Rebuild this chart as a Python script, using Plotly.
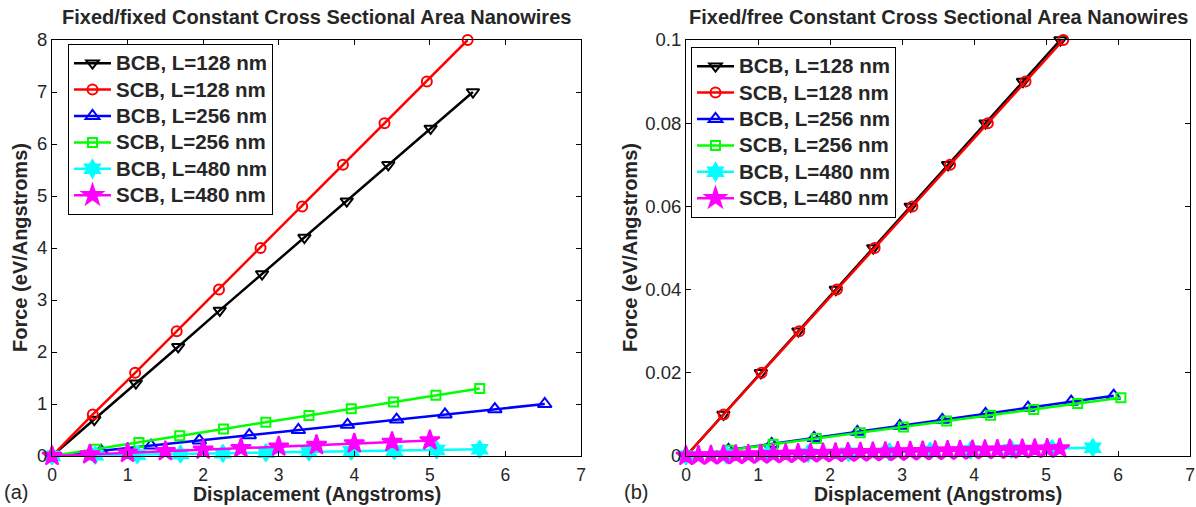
import plotly.graph_objects as go

# ---------------- data: panel (a) fixed/fixed ----------------
a_bcb128_x = [0, 0.56, 1.11, 1.67, 2.22, 2.78, 3.34, 3.90, 4.45, 5.01, 5.57]
a_bcb128_y = [0, 0.7, 1.4, 2.1, 2.8, 3.5, 4.2, 4.9, 5.6, 6.3, 7.0]
a_scb128_x = [0, 0.54, 1.10, 1.65, 2.21, 2.76, 3.31, 3.85, 4.40, 4.96, 5.50]
a_scb128_y = [0, 0.8, 1.6, 2.4, 3.2, 4.0, 4.8, 5.6, 6.4, 7.2, 8.0]
a_bcb256_x = [0, 0.65, 1.31, 1.95, 2.61, 3.26, 3.91, 4.56, 5.20, 5.86, 6.52]
a_bcb256_y = [0, 0.1, 0.2, 0.3, 0.4, 0.5, 0.6, 0.7, 0.8, 0.9, 1.0]
a_scb256_x = [0, 0.58, 1.15, 1.69, 2.27, 2.83, 3.40, 3.96, 4.52, 5.08, 5.66]
a_scb256_y = [0, 0.13, 0.26, 0.39, 0.52, 0.65, 0.78, 0.91, 1.04, 1.17, 1.30]
a_bcb480_x = [0, 0.57, 1.13, 1.70, 2.26, 2.83, 3.40, 3.96, 4.53, 5.09, 5.66]
a_bcb480_y = [0, 0.013, 0.026, 0.039, 0.052, 0.065, 0.078, 0.091, 0.104, 0.117, 0.13]
a_scb480_x = [0, 0.5, 1.0, 1.5, 2.0, 2.5, 3.0, 3.5, 4.0, 4.5, 5.0]
a_scb480_y = [0, 0.03, 0.06, 0.09, 0.12, 0.15, 0.18, 0.21, 0.24, 0.27, 0.30]

# ---------------- data: panel (b) fixed/free ----------------
b_bcb128_x = [0, 0.52, 1.04, 1.56, 2.08, 2.60, 3.12, 3.64, 4.16, 4.68, 5.20]
b_bcb128_y = [0, 0.01, 0.02, 0.03, 0.04, 0.05, 0.06, 0.07, 0.08, 0.09, 0.10]
b_scb128_x = [0, 0.524, 1.048, 1.572, 2.096, 2.62, 3.144, 3.668, 4.192, 4.716, 5.24]
b_scb128_y = [0, 0.01, 0.02, 0.03, 0.04, 0.05, 0.06, 0.07, 0.08, 0.09, 0.10]
b_bcb256_x = [0, 0.59, 1.19, 1.78, 2.38, 2.97, 3.56, 4.16, 4.75, 5.35, 5.94]
b_bcb256_y = [0, 0.00145, 0.0029, 0.00435, 0.0058, 0.00725, 0.0087, 0.01015, 0.0116, 0.01305, 0.0145]
b_scb256_x = [0, 0.60, 1.21, 1.81, 2.42, 3.02, 3.62, 4.23, 4.83, 5.44, 6.04]
b_scb256_y = [0, 0.0014, 0.0028, 0.0042, 0.0056, 0.0070, 0.0084, 0.0098, 0.0112, 0.0126, 0.0140]
b_bcb480_x = [0, 0.565, 1.13, 1.695, 2.26, 2.825, 3.39, 3.955, 4.52, 5.085, 5.65]
b_bcb480_y = [0, 0.0002, 0.0004, 0.0006, 0.0008, 0.0010, 0.0012, 0.0014, 0.0016, 0.0018, 0.0020]
b_scb480_x = [0, 0.173, 0.346, 0.519, 0.692, 0.865, 1.038, 1.211, 1.384, 1.557,
              1.73, 1.903, 2.076, 2.249, 2.422, 2.595, 2.768, 2.941, 3.114, 3.287,
              3.46, 3.633, 3.806, 3.979, 4.152, 4.325, 4.498, 4.671, 4.844, 5.017, 5.19]
b_scb480_y = [0, 0.00006, 0.00012, 0.00018, 0.00024, 0.0003, 0.00036, 0.00042, 0.00048, 0.00054,
              0.0006, 0.00066, 0.00072, 0.00078, 0.00084, 0.0009, 0.00096, 0.00102, 0.00108, 0.00114,
              0.0012, 0.00126, 0.00132, 0.00138, 0.00144, 0.0015, 0.00156, 0.00162, 0.00168, 0.00174, 0.0018]

series_names = ["BCB, L=128 nm", "SCB, L=128 nm", "BCB, L=256 nm",
                "SCB, L=256 nm", "BCB, L=480 nm", "SCB, L=480 nm"]
colors = ["#000000", "#ff0000", "#0000ff", "#00ff00", "#00ffff", "#ff00ff"]
symbols = ["triangle-down-open", "circle-open", "triangle-up-open",
           "square-open", "hexagram", "star"]
msizes = [11, 10, 12, 9, 13, 15]

panel_a = [(a_bcb128_x, a_bcb128_y), (a_scb128_x, a_scb128_y), (a_bcb256_x, a_bcb256_y),
           (a_scb256_x, a_scb256_y), (a_bcb480_x, a_bcb480_y), (a_scb480_x, a_scb480_y)]
panel_b = [(b_bcb128_x, b_bcb128_y), (b_scb128_x, b_scb128_y), (b_bcb256_x, b_bcb256_y),
           (b_scb256_x, b_scb256_y), (b_bcb480_x, b_bcb480_y), (b_scb480_x, b_scb480_y)]

W, H = 1196, 507
FONT = "Liberation Sans, Arial, Helvetica, sans-serif"

fig = go.Figure()
for panel, xa, ya, leg in [(panel_a, "x", "y", "legend"), (panel_b, "x2", "y2", "legend2")]:
    for i, (xs, ys) in enumerate(panel):
        fig.add_trace(go.Scatter(
            x=xs, y=ys, mode="lines+markers",
            name='<span style="font-size:20.5px">' + series_names[i] + "</span>",
            xaxis=xa, yaxis=ya, legend=leg,
            line=dict(color=colors[i], width=2.5),
            marker=dict(symbol=symbols[i], size=msizes[i], color=colors[i],
                        line=dict(color=colors[i], width=2)),
            cliponaxis=False,
        ))

def px_x(p):
    return p / W

def px_y(p):
    return 1 - p / H

axis_common = dict(
    showgrid=False, zeroline=False, showline=True, linecolor="black", linewidth=1,
    mirror="allticks", ticks="inside", ticklen=5, tickcolor="black", automargin=False,
)
y_font = dict(tickfont=dict(family=FONT, size=18.5, color="#262626"))
x_extra = dict(ticklabelstandoff=3, tickfont=dict(family=FONT, size=17.5, color="#262626"))

leg_font = dict(family=FONT, size=18, color="#262626", weight="bold")
fig.update_layout(
    width=W, height=H, margin=dict(l=0, r=0, t=0, b=0, autoexpand=False),
    paper_bgcolor="white", plot_bgcolor="white",
    xaxis=dict(domain=[px_x(52), px_x(581)], range=[0, 7], dtick=1, anchor="y", **axis_common, **x_extra),
    yaxis=dict(domain=[px_y(456), px_y(40)], range=[0, 8], dtick=1, anchor="x", **axis_common, **y_font),
    xaxis2=dict(domain=[px_x(686), px_x(1190)], range=[0, 7], dtick=1, anchor="y2", **axis_common, **x_extra),
    yaxis2=dict(domain=[px_y(456), px_y(40)], range=[0, 0.1], dtick=0.02, anchor="x2", **axis_common, **y_font),
    legend=dict(x=px_x(68), y=px_y(44), xanchor="left", yanchor="top",
                bgcolor="white", bordercolor="black", borderwidth=1,
                font=leg_font, itemwidth=37, tracegroupgap=0),
    legend2=dict(x=px_x(691), y=px_y(47), xanchor="left", yanchor="top",
                 bgcolor="white", bordercolor="black", borderwidth=1,
                 font=leg_font, itemwidth=37, tracegroupgap=0),
    showlegend=True,
)

ann = []
bold = dict(family=FONT, size=20, color="#262626", weight="bold")
axt = dict(family=FONT, size=19.5, color="#262626", weight="bold")
ann.append(dict(text="Fixed/fixed Constant Cross Sectional Area Nanowires", x=px_x(316.5), y=px_y(17),
                xref="paper", yref="paper", showarrow=False, font=bold, xanchor="center", yanchor="middle"))
ann.append(dict(text="Fixed/free Constant Cross Sectional Area Nanowires", x=px_x(938), y=px_y(17),
                xref="paper", yref="paper", showarrow=False, font=bold, xanchor="center", yanchor="middle"))
for cx in (316.5, 938):
    ann.append(dict(text="Displacement (Angstroms)", x=px_x(cx), y=px_y(494),
                    xref="paper", yref="paper", showarrow=False, font=axt,
                    xanchor="center", yanchor="middle"))
for cx in (20, 630):
    ann.append(dict(text="Force (eV/Angstroms)", x=px_x(cx), y=px_y(248),
                    xref="paper", yref="paper", showarrow=False, font=bold, textangle=-90,
                    xanchor="center", yanchor="middle"))
reg = dict(family=FONT, size=20, color="#262626")
ann.append(dict(text="(a)", x=px_x(2), y=px_y(492), xref="paper", yref="paper", showarrow=False,
                font=reg, xanchor="left", yanchor="middle"))
ann.append(dict(text="(b)", x=px_x(622), y=px_y(492), xref="paper", yref="paper", showarrow=False,
                font=reg, xanchor="left", yanchor="middle"))
fig.update_layout(annotations=ann)

fig.write_html("out.html")
